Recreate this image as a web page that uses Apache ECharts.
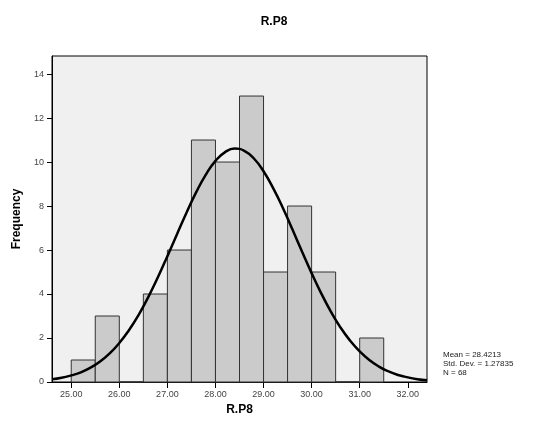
<!DOCTYPE html>
<html><head><meta charset="utf-8">
<script src="https://cdn.jsdelivr.net/npm/echarts@6/dist/echarts.min.js"></script>
<style>html,body{margin:0;padding:0;background:#fff}#c{width:548px;height:428px}</style>
</head><body><div id="c"></div>
<script>
// Histogram bins (width 0.5) and frequencies
const binStarts = [25.0, 25.5, 26.0, 26.5, 27.0, 27.5, 28.0, 28.5, 29.0, 29.5, 30.0, 30.5, 31.0];
const binWidth = 0.5;
const counts = [1, 3, 0, 4, 6, 11, 10, 13, 5, 8, 5, 0, 2];
// Normal curve
const curveX = [24.6,24.8,25.0,25.2,25.4,25.6,25.8,26.0,26.2,26.4,26.6,26.8,27.0,27.2,27.4,27.6,27.8,28.0,28.2,28.4,28.6,28.8,29.0,29.2,29.4,29.6,29.8,30.0,30.2,30.4,30.6,30.8,31.0,31.2,31.4,31.6,31.8,32.0,32.2,32.4];
const curveY = [0.12,0.19,0.30,0.44,0.65,0.93,1.30,1.77,2.35,3.04,3.85,4.75,5.72,6.72,7.71,8.63,9.43,10.05,10.45,10.61,10.51,10.16,9.58,8.81,7.92,6.94,5.93,4.95,4.03,3.20,2.48,1.88,1.39,1.00,0.70,0.48,0.32,0.21,0.13,0.08];
const xTicks = [25, 26, 27, 28, 29, 30, 31, 32];
const yTicks = [0, 2, 4, 6, 8, 10, 12, 14];
const statsLines = ['Mean = 28.4213', 'Std. Dev. = 1.27835', 'N = 68'];

const font = '"Liberation Sans", Arial, sans-serif';
const chart = echarts.init(document.getElementById('c'), null, {renderer: 'canvas'});
chart.setOption({
  animation: false,
  backgroundColor: '#fff',
  title: {text: 'R.P8', left: 'center', top: 11, textStyle: {fontFamily: font, fontSize: 12, fontWeight: 'bold', color: '#000'}},
  grid: {left: 52, top: 56, right: 121, bottom: 46, show: true, backgroundColor: '#f0f0f0', borderColor: '#000', borderWidth: 1},
  xAxis: {
    type: 'value', min: 24.6, max: 32.4,
    name: 'R.P8', nameLocation: 'middle', nameGap: 22,
    nameTextStyle: {fontFamily: font, fontSize: 12, fontWeight: 'bold', color: '#000'},
    axisLine: {show: true, lineStyle: {color: '#000', width: 1}},
    axisTick: {show: true, length: 6, lineStyle: {color: '#000'}, customValues: xTicks},
    axisLabel: {fontFamily: font, fontSize: 9, color: '#444', margin: 8, customValues: xTicks, formatter: v => v.toFixed(2)},
    splitLine: {show: false}
  },
  yAxis: {
    type: 'value', min: 0, max: 14.82,
    name: 'Frequency', nameLocation: 'middle', nameGap: 29, nameRotate: 90,
    nameTextStyle: {fontFamily: font, fontSize: 12, fontWeight: 'bold', color: '#000'},
    axisLine: {show: true, lineStyle: {color: '#000', width: 1}},
    axisTick: {show: true, length: 5, inside: false, lineStyle: {color: '#000'}, customValues: yTicks},
    axisLabel: {fontFamily: font, fontSize: 9, color: '#444', margin: 8, customValues: yTicks},
    splitLine: {show: false}
  },
  series: [
    {
      type: 'custom',
      data: binStarts.map((s, i) => [s, s + binWidth, counts[i]]),
      renderItem: function (params, api) {
        const p0 = api.coord([api.value(0), api.value(2)]);
        const p1 = api.coord([api.value(1), 0]);
        return {
          type: 'rect',
          shape: {x: p0[0], y: p0[1], width: p1[0] - p0[0], height: p1[1] - p0[1]},
          style: {fill: '#cbcbcb', stroke: '#333', lineWidth: 1}
        };
      },
      z: 2
    },
    {
      type: 'line', data: curveX.map((x, i) => [x, curveY[i]]), smooth: true, showSymbol: false,
      lineStyle: {color: '#000', width: 2.5}, z: 3
    }
  ],
  graphic: statsLines.map((t, i) => ({
    type: 'text', left: 443, top: 351 + i * 9,
    style: {text: t, fontFamily: font, fontSize: 8, fill: '#222'}
  }))
});
</script></body></html>
